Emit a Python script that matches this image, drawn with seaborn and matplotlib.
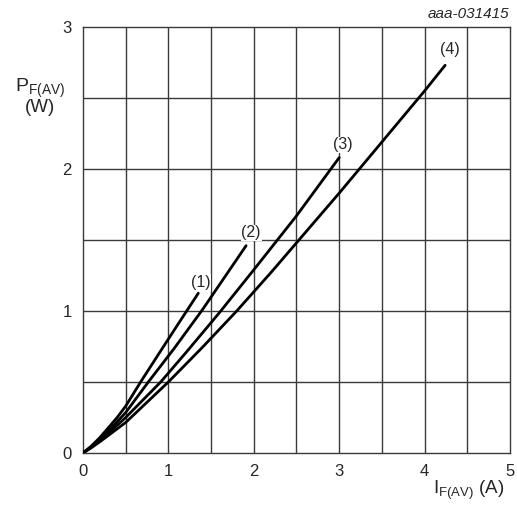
import numpy as np
import pandas as pd
import matplotlib
matplotlib.use("Agg")
import matplotlib.pyplot as plt
import seaborn as sns

# curve data (I_F(AV) in A, P_F(AV) in W)
x1 = [0, 0.1, 0.2, 0.3, 0.4, 0.5, 0.675, 0.9, 1.1, 1.35]
y1 = [0, 0.05, 0.11, 0.18, 0.25, 0.33, 0.5, 0.71, 0.895, 1.125]

x2 = [0, 0.1, 0.2, 0.3, 0.4, 0.5, 0.765, 1.06, 1.4, 1.91]
y2 = [0, 0.045, 0.1, 0.16, 0.22, 0.285, 0.5, 0.73, 1.01, 1.46]

x3 = [0, 0.1, 0.2, 0.3, 0.4, 0.5, 0.91, 1.21, 1.6, 2.0, 2.5, 3.0]
y3 = [0, 0.04, 0.09, 0.14, 0.195, 0.25, 0.5, 0.71, 0.99, 1.29, 1.67, 2.08]

x4 = [0, 0.1, 0.2, 0.3, 0.4, 0.5, 1.0, 1.4, 1.8, 2.2, 2.5, 3.0, 3.5, 4.0, 4.24]
y4 = [0, 0.038, 0.08, 0.125, 0.17, 0.215, 0.5, 0.745, 1.0, 1.27, 1.48, 1.83, 2.19, 2.55, 2.73]

curve_names = ["(1)", "(2)", "(3)", "(4)"]
label_x = [1.38, 1.97, 3.04, 4.29]
label_y = [1.20, 1.55, 2.17, 2.84]

x_ticks = [0, 1, 2, 3, 4, 5]
y_ticks = [0, 1, 2, 3]

frames = []
for name, xs, ys in zip(curve_names, [x1, x2, x3, x4], [y1, y2, y3, y4]):
    frames.append(pd.DataFrame({"I": xs, "P": ys, "curve": name}))
df = pd.concat(frames, ignore_index=True)

sns.set_style("white")
plt.rcParams['font.family'] = ['Liberation Sans', 'DejaVu Sans']

fig = plt.figure(figsize=(5.17, 5.05), dpi=100)
ax = fig.add_axes([0.1605, 0.103, 0.826, 0.8436])

gridc = "#3a3a3a"
for v in np.arange(0.5, 5, 0.5):
    ax.axvline(v, color=gridc, lw=1.0, zorder=1)
for v in np.arange(0.5, 3, 0.5):
    ax.axhline(v, color=gridc, lw=1.0, zorder=1)

sns.lineplot(data=df, x="I", y="P", units="curve", estimator=None, sort=False,
             color="black", lw=2.0, ax=ax, zorder=3, legend=False)

for name, lx, ly in zip(curve_names, label_x, label_y):
    ax.text(lx, ly, name, ha="center", va="center", fontsize=11.5,
            bbox=dict(facecolor="white", edgecolor="none", pad=0.5), zorder=4)

ax.set_xlim(0, 5)
ax.set_ylim(0, 3)
ax.set_xticks(x_ticks)
ax.set_yticks(y_ticks)
ax.tick_params(length=0, labelsize=12, pad=8)
ax.set_xlabel("")
ax.set_ylabel("")
for s in ax.spines.values():
    s.set_color(gridc)
    s.set_linewidth(1.0)

fig.text(0.077, 0.826, r"P$_{\mathregular{F(AV)}}$", fontsize=14, ha="center", va="center")
fig.text(0.077, 0.788, "(W)", fontsize=13.5, ha="center", va="center")
fig.text(0.976, 0.03, r"I$_{\mathregular{F(AV)}}$ (A)", fontsize=13.5, ha="right", va="center")
fig.text(0.986, 0.972, "aaa-031415", fontsize=11, style="italic", ha="right", va="center")

fig.savefig("out.png", dpi=100)
